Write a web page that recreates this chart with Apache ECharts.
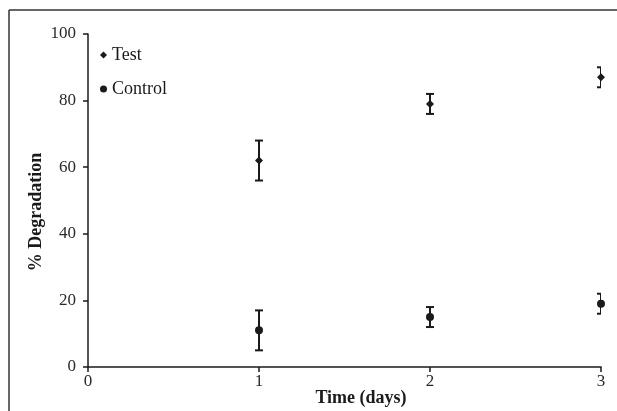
<!DOCTYPE html>
<html>
<head>
<meta charset="utf-8">
<script src="https://cdn.jsdelivr.net/npm/echarts@6/dist/echarts.min.js"></script>
<style>html,body{margin:0;padding:0;background:#fff;}#c{width:617px;height:411px;}</style>
</head>
<body>
<div id="c"></div>
<script>
var days = [1, 2, 3];
var testMean = [62, 79, 87];
var testLow = [56, 76, 84];
var testHigh = [68, 82, 90];
var controlMean = [11, 15, 19];
var controlLow = [5, 12, 16];
var controlHigh = [17, 18, 22];
var yTicks = [0, 20, 40, 60, 80, 100];
var xTicks = [0, 1, 2, 3];

var ink = '#1a1a1a';
var font = '"Liberation Serif", "Times New Roman", serif';

function pts(xs, ys) { return xs.map(function (x, i) { return [x, ys[i]]; }); }
function errData(xs, lo, hi) { return xs.map(function (x, i) { return [x, lo[i], hi[i]]; }); }

function errRender(params, api) {
  var x = api.value(0);
  var lo = api.coord([x, api.value(1)]);
  var hi = api.coord([x, api.value(2)]);
  var w = 4;
  var st = { stroke: ink, lineWidth: 2 };
  return {
    type: 'group',
    children: [
      { type: 'line', shape: { x1: lo[0], y1: lo[1], x2: hi[0], y2: hi[1] }, style: st },
      { type: 'line', shape: { x1: lo[0] - w, y1: lo[1], x2: lo[0] + w, y2: lo[1] }, style: st },
      { type: 'line', shape: { x1: hi[0] - w, y1: hi[1], x2: hi[0] + w, y2: hi[1] }, style: st }
    ]
  };
}

var chart = echarts.init(document.getElementById('c'), null, { renderer: 'canvas' });
chart.setOption({
  animation: false,
  backgroundColor: '#fff',
  grid: { left: 88, right: 16, top: 34, bottom: 44, containLabel: false },
  legend: {
    orient: 'vertical', left: 100, top: 46, padding: 0, itemWidth: 7, itemHeight: 7, itemGap: 16,
    textStyle: { fontFamily: font, fontSize: 18, color: ink },
    data: [{ name: 'Test', icon: 'diamond' }, { name: 'Control', icon: 'circle' }]
  },
  xAxis: {
    type: 'value', min: 0, max: 3, interval: 1,
    axisLine: { show: true, lineStyle: { color: ink, width: 1.5 } },
    axisTick: { show: true, length: 5, lineStyle: { color: ink, width: 1.5 } },
    axisLabel: { fontFamily: font, fontSize: 17, color: '#2a2a2a', margin: 6,
      formatter: function (v) { return xTicks.indexOf(v) >= 0 ? String(v) : ''; } },
    splitLine: { show: false }
  },
  yAxis: {
    type: 'value', min: 0, max: 100, interval: 20,
    axisLine: { show: true, lineStyle: { color: ink, width: 1.5 } },
    axisTick: { show: true, length: 5, lineStyle: { color: ink, width: 1.5 } },
    axisLabel: { fontFamily: font, fontSize: 17, color: '#2a2a2a', margin: 12,
      formatter: function (v) { return yTicks.indexOf(v) >= 0 ? String(v) : ''; } },
    splitLine: { show: false }
  },
  graphic: [
    { type: 'line', shape: { x1: 9, y1: 10, x2: 617, y2: 10 }, style: { stroke: '#333', lineWidth: 1.5 } },
    { type: 'line', shape: { x1: 9, y1: 10, x2: 9, y2: 411 }, style: { stroke: '#333', lineWidth: 1.5 } },
    { type: 'text', x: 361, y: 398, style: { text: 'Time (days)', fontFamily: font, fontSize: 18, fontWeight: 'bold', fill: ink, align: 'center', verticalAlign: 'middle' } },
    { type: 'text', x: 36, y: 212, rotation: Math.PI / 2, style: { text: '% Degradation', fontFamily: font, fontSize: 18, fontWeight: 'bold', fill: ink, align: 'center', verticalAlign: 'middle' } }
  ],
  series: [
    { type: 'custom', name: 'TestErr', renderItem: errRender, data: errData(days, testLow, testHigh), clip: true, z: 2 },
    { type: 'custom', name: 'ControlErr', renderItem: errRender, data: errData(days, controlLow, controlHigh), clip: true, z: 2 },
    { type: 'scatter', name: 'Test', symbol: 'diamond', symbolSize: 8, itemStyle: { color: ink, opacity: 1 }, data: pts(days, testMean), z: 3 },
    { type: 'scatter', name: 'Control', symbol: 'circle', symbolSize: 8, itemStyle: { color: ink, opacity: 1 }, data: pts(days, controlMean), z: 3 }
  ]
});
</script>
</body>
</html>
